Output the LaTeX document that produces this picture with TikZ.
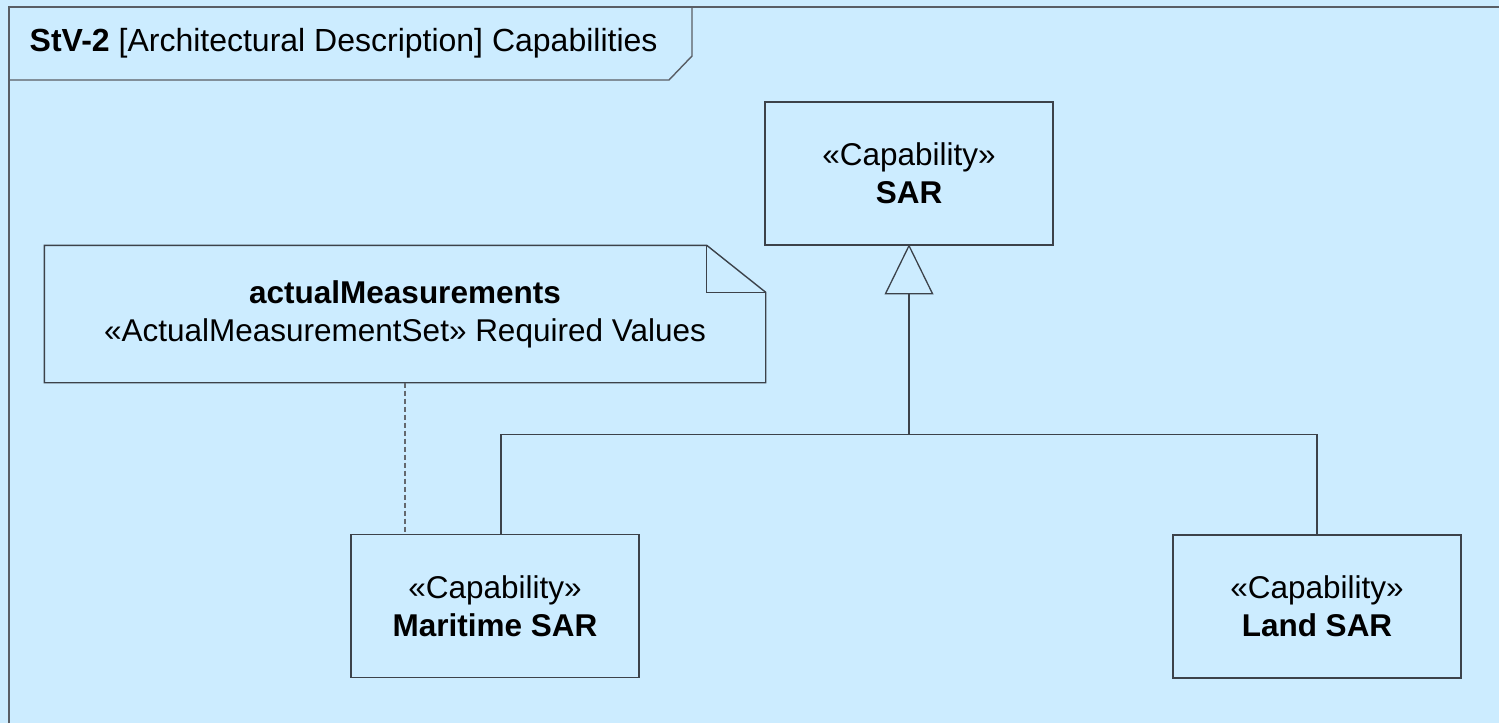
\documentclass[tikz,border=0pt]{standalone}
\usepackage{fontspec}
\setmainfont{Liberation Sans}
\definecolor{bgblue}{RGB}{204,236,255}
\definecolor{linegray}{RGB}{60,66,74}
\begin{document}
\begin{tikzpicture}[x=1pt,y=-1pt,
  line width=1.4pt,
  every node/.style={font=\fontsize{31.5}{38}\selectfont, text=black},
  capbox/.style={draw=linegray, rectangle, minimum width=288pt, minimum height=143pt, align=center, inner sep=0pt},
  gen/.style={draw=linegray, line width=1.3pt},
  trace/.style={draw=linegray!80, dashed, dash pattern=on 5pt off 3pt, line width=1.3pt}]
\useasboundingbox (0,0) rectangle (1499,723);
\fill[bgblue] (0,0) rectangle (1499,723);
% frame
\draw[linegray!85] (9,723) -- (9,7) -- (1499,7);
\draw[linegray!85] (9,80) -- (669,80) -- (692,56) -- (692,7);
\node[anchor=west, inner sep=0pt, font=\fontsize{32}{38}\selectfont] (title) at (29,43) {\textbf{StV-2} [Architectural Description] Capabilities};
% capability boxes
\node[capbox] (sar) at (909,173.5) {«Capability»\\\textbf{SAR}};
\node[capbox] (mar) at (495,606) {«Capability»\\\textbf{Maritime SAR}};
\node[capbox] (land) at (1317,606.5) {«Capability»\\\textbf{Land SAR}};
% note
\node[rectangle, minimum width=720pt, minimum height=136pt, align=center, inner sep=0pt] (note) at (405,314) {\textbf{actualMeasurements}\\«ActualMeasurementSet» Required Values};
\draw[linegray] (note.south west) -- (note.north west) -- ([xshift=-59pt]note.north east) -- ([yshift=-47pt]note.north east) -- (note.south east) -- cycle;
\draw[linegray, line width=1.2pt] ([xshift=-59pt]note.north east) -- ([xshift=-59pt,yshift=-47pt]note.north east) -- ([yshift=-47pt]note.north east);
% trace link
\draw[trace] (note.south) -- (note.south |- mar.north);
% generalization
\coordinate (tip) at (sar.south);
\coordinate (tbase) at ([yshift=-48pt]sar.south);
\coordinate (join) at ([yshift=-189pt]sar.south);
\draw[gen, fill=bgblue] (tip) -- ([xshift=-23.5pt]tbase) -- ([xshift=23.5pt]tbase) -- cycle;
\draw[gen] (tbase) -- (join);
\draw[gen] ([xshift=6pt]mar.north) |- (join) -| (land.north);
\end{tikzpicture}
\end{document}
